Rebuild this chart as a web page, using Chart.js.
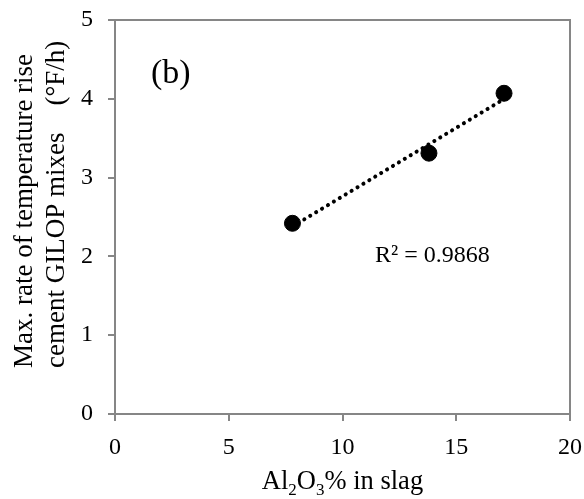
<!DOCTYPE html>
<html>
<head>
<meta charset="utf-8">
<script src="https://cdn.jsdelivr.net/npm/chart.js@4"></script>
<style>
  html, body { margin: 0; padding: 0; background: #fff; }
  canvas { display: block; }
</style>
</head>
<body>
<canvas id="chart" width="584" height="499"></canvas>
<script>
const al2o3 = [7.8, 13.8, 17.1];
const rateRise = [2.42, 3.31, 4.07];
const xTicks = [0, 5, 10, 15, 20];
const yTicks = [0, 1, 2, 3, 4, 5];
const yTitle = ['Max. rate of temperature rise', 'cement GILOP mixes    (\u00B0F/h)'];
const panelLabel = '(b)';
const r2Label = 'R\u00B2 = 0.9868';

// least squares line for the dotted trendline
const n = al2o3.length;
const mx = al2o3.reduce((a, b) => a + b, 0) / n;
const my = rateRise.reduce((a, b) => a + b, 0) / n;
let sxy = 0, sxx = 0;
al2o3.forEach((x, i) => { sxy += (x - mx) * (rateRise[i] - my); sxx += (x - mx) * (x - mx); });
const slope = sxy / sxx;
const icpt = my - slope * mx;
const xMin = Math.min(...al2o3), xMax = Math.max(...al2o3);
const trend = [{ x: xMin, y: icpt + slope * xMin }, { x: xMax, y: icpt + slope * xMax }];

const serif = '"Liberation Serif", "Times New Roman", serif';
const axisGrey = '#868686';

// stop chart.js shrinking the plot for the end tick labels
function noPad(s) {
    s.paddingLeft = 0; s.paddingRight = 0; s.paddingTop = 0; s.paddingBottom = 0;
}

const decorations = {
    id: 'decorations',
    afterDraw(chart) {
        const c = chart.ctx;
        const a = chart.chartArea;
        c.save();
        // box round the plot
        c.strokeStyle = axisGrey;
        c.lineWidth = 2;
        c.strokeRect(a.left, a.top, a.right - a.left, a.bottom - a.top);

        c.fillStyle = '#000';
        c.textAlign = 'left';
        c.textBaseline = 'middle';
        c.font = '34px ' + serif;
        c.fillText(panelLabel, 151, 74);
        c.textBaseline = 'alphabetic';
        c.font = '24px ' + serif;
        c.fillText(r2Label, 375, 262);

        // y axis title, two lines starting at the same height
        c.save();
        c.translate(0, 368);
        c.rotate(-Math.PI / 2);
        c.textAlign = 'left';
        c.textBaseline = 'middle';
        c.font = '27px ' + serif;
        c.fillText(yTitle[0], 0, 25);
        c.fillText(yTitle[1], 0, 57);
        c.restore();

        // x axis title with subscripts
        const parts = [['Al', 0], ['2', 1], ['O', 0], ['3', 1], ['% in slag', 0]];
        const big = '26.5px ' + serif, small = '17px ' + serif;
        let total = 0;
        parts.forEach(p => { c.font = p[1] ? small : big; total += c.measureText(p[0]).width; });
        let x = (a.left + a.right) / 2 - total / 2;
        const base = 489;
        parts.forEach(p => {
            c.font = p[1] ? small : big;
            c.fillText(p[0], x, base + (p[1] ? 6 : 0));
            x += c.measureText(p[0]).width;
        });
        c.restore();
    }
};

new Chart(document.getElementById('chart'), {
    type: 'scatter',
    data: {
        datasets: [
            {
                label: 'trend',
                type: 'line',
                data: trend,
                borderColor: '#000',
                borderWidth: 4,
                borderDash: [0.1, 6.8],
                borderCapStyle: 'round',
                pointRadius: 0,
                fill: false,
                order: 2
            },
            {
                label: 'data',
                data: al2o3.map((x, i) => ({ x: x, y: rateRise[i] })),
                backgroundColor: '#000',
                borderColor: '#000',
                pointRadius: 8,
                pointHoverRadius: 8,
                order: 1
            }
        ]
    },
    options: {
        responsive: false,
        animation: false,
        layout: { padding: { top: 20, right: 14, left: 0, bottom: 0 } },
        plugins: {
            legend: { display: false },
            tooltip: { enabled: false }
        },
        scales: {
            x: {
                type: 'linear',
                min: xTicks[0],
                max: xTicks[xTicks.length - 1],
                afterBuildTicks: s => { s.ticks = xTicks.map(v => ({ value: v })); },
                afterFit: s => { s.height = 85; noPad(s); },
                border: { color: axisGrey, width: 2 },
                grid: { drawOnChartArea: false, color: axisGrey, lineWidth: 2, tickLength: 7 },
                ticks: { color: '#000', font: { family: serif, size: 24 }, padding: 12, maxRotation: 0 }
            },
            y: {
                type: 'linear',
                min: yTicks[0],
                max: yTicks[yTicks.length - 1],
                afterBuildTicks: s => { s.ticks = yTicks.map(v => ({ value: v })); },
                afterFit: s => { s.width = 115; noPad(s); },
                border: { color: axisGrey, width: 2 },
                grid: { drawOnChartArea: false, color: axisGrey, lineWidth: 2, tickLength: 7 },
                ticks: { color: '#000', font: { family: serif, size: 24 }, padding: 15 }
            }
        }
    },
    plugins: [decorations]
});
</script>
</body>
</html>
